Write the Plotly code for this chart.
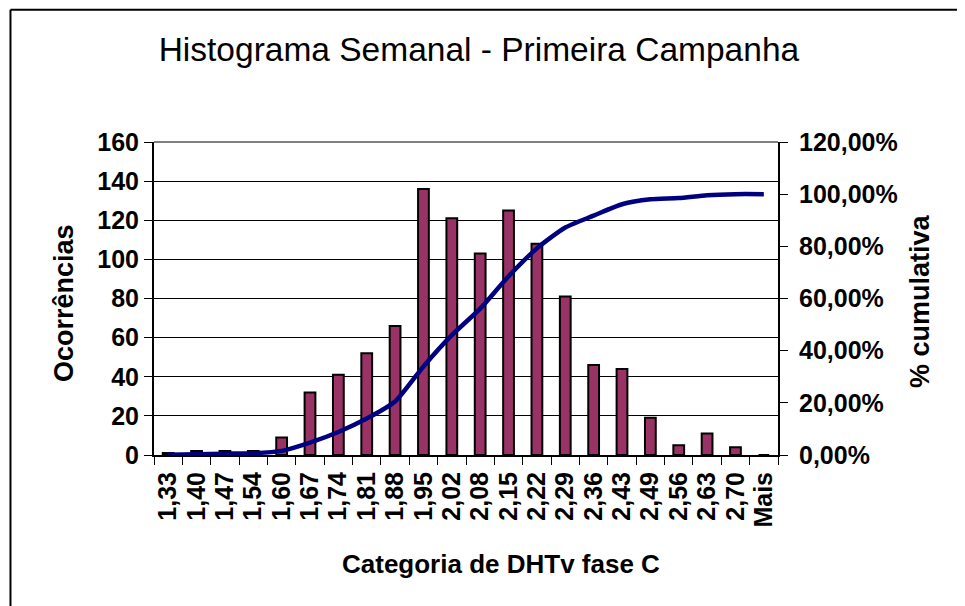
import plotly.graph_objects as go

# dados
categorias = ["1,33", "1,40", "1,47", "1,54", "1,60", "1,67", "1,74", "1,81", "1,88",
              "1,95", "2,02", "2,08", "2,15", "2,22", "2,29", "2,36", "2,43", "2,49",
              "2,56", "2,63", "2,70", "Mais"]
ocorrencias = [1, 2, 2, 2, 9, 32, 41, 52, 66, 136, 121, 103, 125, 108, 81, 46, 44, 19,
               5, 11, 4, 0]
cumulativa = [0.10, 0.30, 0.50, 0.69, 1.58, 4.75, 8.81, 13.96, 20.50, 33.96, 45.94,
              56.14, 68.51, 79.21, 87.23, 91.78, 96.14, 98.02, 98.51, 99.60, 100.00, 100.00]

left_ticks = [0, 20, 40, 60, 80, 100, 120, 140, 160]
right_ticks = [0, 20, 40, 60, 80, 100, 120]
right_labels = ["0,00%", "20,00%", "40,00%", "60,00%", "80,00%", "100,00%", "120,00%"]

fonte = "Liberation Sans, Arial, sans-serif"

bars = go.Bar(x=categorias, y=ocorrencias,
              marker=dict(color="#993366", line=dict(color="black", width=2)),
              name="Frequência")

linha = go.Scatter(x=categorias, y=cumulativa, yaxis="y2", mode="lines",
                   line=dict(color="#000080", width=4.5, shape="spline", smoothing=0.6),
                   name="% cumulativo")

layout = go.Layout(
    width=965, height=606,
    margin=dict(l=146, r=195, t=134, b=159),
    paper_bgcolor="white", plot_bgcolor="white",
    showlegend=False,
    bargap=0.62,
    font=dict(family=fonte, color="black"),
    title=dict(text="Histograma Semanal - Primeira Campanha",
               x=0.488, xanchor="center", y=0.932, yanchor="middle",
               font=dict(size=33.5, family=fonte, color="black")),
    xaxis=dict(type="category", tickmode="array", tickvals=categorias,
               showline=True, linecolor="black", linewidth=2,
               ticks="outside", ticklen=8, tickcolor="black", tickson="boundaries",
               tickangle=-90, ticklabelstandoff=5,
               tickfont=dict(size=25, family=fonte, weight="bold"),
               showgrid=False),
    yaxis=dict(range=[0, 160], tickvals=left_ticks, showline=True, linecolor="black",
               linewidth=2, ticks="outside", ticklen=8, tickcolor="black",
               showgrid=True, gridcolor="black", gridwidth=1, zeroline=False,
               tickfont=dict(size=25, family=fonte, weight="bold")),
    yaxis2=dict(range=[0, 120], tickvals=right_ticks, ticktext=right_labels,
                overlaying="y", side="right", showline=True, linecolor="black",
                linewidth=2, ticks="outside", ticklen=8, tickcolor="black",
                showgrid=False, zeroline=False, ticklabelstandoff=6,
                tickfont=dict(size=25, family=fonte, weight="bold")),
    annotations=[
        dict(text="Ocorrências", xref="paper", yref="paper", x=-0.1442, y=0.4856,
             xanchor="center", yanchor="middle", textangle=-90, showarrow=False,
             font=dict(size=27, family=fonte, weight="bold")),
        dict(text="% cumulativa", xref="paper", yref="paper", x=1.2276, y=0.492,
             xanchor="center", yanchor="middle", textangle=-90, showarrow=False,
             font=dict(size=27, family=fonte, weight="bold")),
        dict(text="Categoria de DHTv fase C", xref="paper", yref="paper", x=0.556,
             y=-0.348, xanchor="center", yanchor="middle", showarrow=False,
             font=dict(size=26, family=fonte, weight="bold")),
    ],
    shapes=[
        # linha cinza no topo da área de plotagem
        dict(type="line", xref="paper", yref="paper", x0=0, x1=1, y0=1, y1=1,
             line=dict(color="#808080", width=2)),
        # moldura do gráfico (esquerda e topo)
        dict(type="line", xref="paper", yref="paper", x0=-0.2300, x1=-0.2300,
             y0=-0.55, y1=1.4225, line=dict(color="black", width=2)),
        dict(type="line", xref="paper", yref="paper", x0=-0.2300, x1=1.35,
             y0=1.4225, y1=1.4225, line=dict(color="black", width=2)),
    ],
)

fig = go.Figure(data=[bars, linha], layout=layout)
fig.write_html("out.html")
